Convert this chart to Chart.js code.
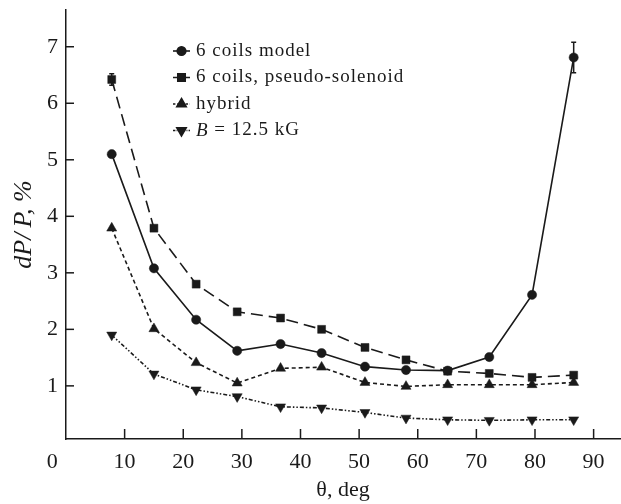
<!DOCTYPE html>
<html><head><meta charset="utf-8">
<script src="https://cdn.jsdelivr.net/npm/chart.js@4/dist/chart.umd.min.js"></script>
<style>html,body{margin:0;padding:0;background:#fff}canvas{display:block}</style>
</head><body>
<canvas id="c" width="621" height="504"></canvas>
<script>
// ---- data ----
const theta = [7.8, 15.0, 22.2, 29.2, 36.6, 43.6, 51.0, 58.0, 65.1, 72.2, 79.5, 86.6];
const sixCoilsModel = [5.10, 3.08, 2.17, 1.62, 1.74, 1.58, 1.34, 1.28, 1.27, 1.51, 2.61, 6.81];
const sixCoilsModelErr = [0, 0, 0, 0, 0, 0, 0, 0, 0, 0, 0, 0.27];
const pseudoSolenoid = [6.42, 3.79, 2.80, 2.31, 2.20, 2.00, 1.68, 1.46, 1.26, 1.22, 1.15, 1.19];
const pseudoSolenoidErr = [0.1, 0, 0, 0, 0, 0, 0, 0, 0, 0, 0, 0];
const hybrid = [3.79, 2.01, 1.41, 1.05, 1.31, 1.33, 1.06, 0.99, 1.02, 1.02, 1.02, 1.06];
const field125 = [1.90, 1.21, 0.93, 0.81, 0.63, 0.61, 0.53, 0.43, 0.40, 0.39, 0.40, 0.40];
const seriesLabels = ['6 coils model', '6 coils, pseudo-solenoid', 'hybrid', 'B = 12.5 kG'];
const xTicks = [0, 10, 20, 30, 40, 50, 60, 70, 80, 90];
const yTicks = [1, 2, 3, 4, 5, 6, 7];
const xTitle = 'θ, deg';
const yTitle = 'dP/\u2009P, %';

const INK = '#1a1a1a';
const SERIF = '"Liberation Serif", "DejaVu Serif", serif';
const pts = arr => arr.map((v, i) => ({x: theta[i], y: v}));

const styles = [
  {pointStyle: 'circle', radius: 4.6, rotation: 0, dash: []},
  {pointStyle: 'rect', radius: 5.6, rotation: 0, dash: [12, 6]},
  {pointStyle: 'triangle', radius: 5.8, rotation: 0, dash: [4, 3]},
  {pointStyle: 'triangle', radius: 5.8, rotation: 180, dash: [4, 2, 1.5, 2, 1.5, 2]}
];
const seriesData = [sixCoilsModel, pseudoSolenoid, hybrid, field125];
const seriesErr = [sixCoilsModelErr, pseudoSolenoidErr, null, null];

const datasets = seriesData.map((d, i) => ({
  label: seriesLabels[i],
  data: pts(d),
  borderColor: INK,
  backgroundColor: INK,
  borderWidth: 1.6,
  borderDash: styles[i].dash,
  pointStyle: styles[i].pointStyle,
  pointRadius: styles[i].radius,
  pointRotation: styles[i].rotation,
  pointBackgroundColor: INK,
  pointBorderColor: INK,
  pointBorderWidth: 0.5,
  tension: 0,
  fill: false
}));

const extras = {
  id: 'extras',
  afterDatasetsDraw(chart) {
    const ctx = chart.ctx, xs = chart.scales.x, ys = chart.scales.y, a = chart.chartArea;
    ctx.save();
    ctx.strokeStyle = INK; ctx.lineWidth = 1.5; ctx.setLineDash([]);
    // inward tick marks
    xTicks.forEach(v => { if (v === 0) return; const px = xs.getPixelForValue(v);
      ctx.beginPath(); ctx.moveTo(px, a.bottom); ctx.lineTo(px, a.bottom - 10); ctx.stroke(); });
    yTicks.forEach(v => { const py = ys.getPixelForValue(v);
      ctx.beginPath(); ctx.moveTo(a.left, py); ctx.lineTo(a.left + 8, py); ctx.stroke(); });
    // error bars
    seriesErr.forEach((errs, si) => { if (!errs) return;
      errs.forEach((e, i) => { if (!e) return;
        const px = xs.getPixelForValue(theta[i]);
        const y1 = ys.getPixelForValue(seriesData[si][i] + e), y2 = ys.getPixelForValue(seriesData[si][i] - e);
        ctx.beginPath(); ctx.moveTo(px, y1); ctx.lineTo(px, y2);
        ctx.moveTo(px - 2.5, y1); ctx.lineTo(px + 2.5, y1);
        ctx.moveTo(px - 2.5, y2); ctx.lineTo(px + 2.5, y2); ctx.stroke(); }); });
    // legend
    const lx0 = 173, lx1 = 190, mx = 181.5, tx = 196, ty0 = 51, dy = 26.5;
    ctx.textBaseline = 'middle'; ctx.textAlign = 'left'; ctx.fillStyle = INK;
    chart.data.datasets.forEach((ds, i) => {
      const y = ty0 + i * dy;
      ctx.save(); ctx.lineWidth = 1.6; ctx.setLineDash(ds.borderDash.map(v => v * 0.6));
      ctx.beginPath(); ctx.moveTo(lx0, y); ctx.lineTo(lx1, y); ctx.stroke(); ctx.restore();
      Chart.helpers.drawPoint(ctx, {pointStyle: ds.pointStyle, radius: ds.pointRadius * 0.95, rotation: ds.pointRotation, borderWidth: 0.5}, mx, y);
      ctx.fill();
      const lab = ds.label;
      ctx.letterSpacing = '1px';
      if (lab.startsWith('B ')) {
        ctx.font = 'italic 19px ' + SERIF; ctx.fillText('B', tx, y);
        const w = ctx.measureText('B').width;
        ctx.font = '19px ' + SERIF; ctx.fillText(lab.slice(1), tx + w, y);
      } else {
        ctx.font = '19px ' + SERIF; ctx.fillText(lab, tx, y);
      }
      ctx.letterSpacing = '0px';
    });
    ctx.restore();
  }
};

new Chart(document.getElementById('c'), {
  type: 'line',
  data: {datasets},
  options: {
    responsive: false, animation: false, devicePixelRatio: 1,
    layout: {autoPadding: false, padding: {top: 10, right: 1, left: 0, bottom: 0}},
    plugins: {legend: {display: false}, tooltip: {enabled: false}},
    scales: {
      x: {
        type: 'linear', min: 0, max: 94.5,
        afterFit(s) { s.height = 65; s.paddingLeft = 0; s.paddingRight = 0; },
        grid: {display: false, drawTicks: false},
        border: {display: true, color: INK, width: 1.5},
        ticks: {
          stepSize: 10, includeBounds: false, padding: 10, color: INK, maxRotation: 0, autoSkip: false,
          font: {family: SERIF, size: 22},
          callback: v => xTicks.includes(v) ? (v === 0 ? '0     ' : String(v)) : ''
        },
        title: {display: true, text: xTitle, color: INK, font: {family: SERIF, size: 22}, padding: {top: 0, bottom: 1}}
      },
      y: {
        type: 'linear', min: 0.06, max: 7.65,
        afterFit(s) { s.width = 66; s.paddingTop = 0; s.paddingBottom = 0; },
        grid: {display: false, drawTicks: false},
        border: {display: true, color: INK, width: 1.5},
        ticks: {
          stepSize: 1, includeBounds: false, padding: 8, color: INK,
          font: {family: SERIF, size: 22},
          callback: v => yTicks.includes(v) ? String(v) : ''
        },
        title: {display: true, text: yTitle, color: INK, font: {family: SERIF, size: 26, style: 'italic'}, padding: {top: 9, bottom: 0}}
      }
    }
  },
  plugins: [extras]
});
</script>
</body></html>
